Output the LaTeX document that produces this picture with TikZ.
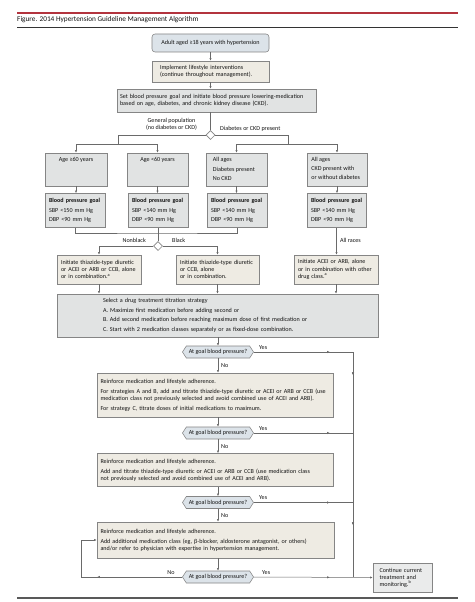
\documentclass[tikz,border=0pt]{standalone}
\usepackage{fontspec}
\setmainfont{Carlito}
\usetikzlibrary{shapes.geometric,shapes.symbols,arrows.meta,decorations.markings}
\definecolor{bluegray}{HTML}{DCE3E9}
\definecolor{beige}{HTML}{EEEBE3}
\definecolor{lgray}{HTML}{E1E3E3}
\definecolor{edgec}{HTML}{858585}
\definecolor{connc}{HTML}{6A6A6A}
\definecolor{redline}{HTML}{B3343E}
\definecolor{txtc}{HTML}{141414}
\begin{document}
\begin{tikzpicture}[x=1pt,y=-1pt,
  font=\fontsize{6.1}{7}\selectfont, text=txtc,
  box/.style={draw=edgec, line width=0.55pt, inner ysep=1pt, align=left},
  gbox/.style={box, fill=lgray},
  bbox/.style={box, fill=beige},
  conn/.style={draw=connc, line width=0.5pt},
  arr/.style={conn, -{Latex[length=2.6pt,width=2.2pt]}},
  midarr/.style={postaction={decorate}, decoration={markings, mark=at position #1 with {\arrow{Latex[length=2.6pt,width=2.2pt]}}}},
  hexa/.style={signal, signal to=west and east, signal pointer angle=115, draw=edgec, line width=0.55pt, fill=bluegray, minimum height=12pt, minimum width=71pt, inner xsep=1pt, inner ysep=0pt},
  dia/.style={diamond, draw=edgec, line width=0.55pt, fill=white, minimum size=9pt, inner sep=0pt},
  lbl/.style={inner sep=0pt, align=left}
]
\fill[white] (0,0) rectangle (474,602);
\useasboundingbox (0,0) rectangle (474,602);

% header
\draw[redline, line width=1.3pt] (17,13) -- (458,13);
\node[lbl, anchor=west, font=\fontsize{7.3}{8}\selectfont] (title) at (17,20) {Figure. 2014 Hypertension Guideline Management Algorithm};
\draw[black!80, line width=0.6pt] (17,27) -- (458,27);
\draw[black!65, line width=1.2pt] (17,598) -- (458,598);

% top boxes
\node[box, fill=bluegray, rounded corners=3pt, minimum width=117pt, minimum height=18pt, align=center] (n1) at (210.5,43) {Adult aged ≥18 years with hypertension};
\node[bbox, minimum width=117pt, minimum height=21pt, inner xsep=8pt, text width=101pt] (n2) at (210.5,71.5) {Implement lifestyle interventions\\(continue throughout management).};
\node[gbox, minimum width=199pt, minimum height=23pt, inner xsep=3pt, text width=193pt] (n3) at (216.5,100.5) {Set blood pressure goal and initiate blood pressure lowering-medication\\based on age, diabetes, and chronic kidney disease (CKD).};
\node[dia] (d1) at (210.5,135) {};

\draw[arr] (n1.south) -- (n2.north);
\draw[arr] (n2.south) -- (n2.south |- n3.north);
\draw[conn] (n2.south |- n3.south) -- (d1.north);

\node[lbl, align=center] (lgen) at (171.5,124.5) {General population\\(no diabetes or CKD)};
\node[lbl, anchor=west] (ldia) at (220,128.5) {Diabetes or CKD present};

% row 1
\node[gbox, minimum width=62pt, minimum height=33pt] (r1a) at (76,169.5) {};
\node[gbox, minimum width=61pt, minimum height=33pt] (r1b) at (157.5,169.5) {};
\node[gbox, minimum width=61pt, minimum height=33pt] (r1c) at (236.5,169.5) {};
\node[gbox, minimum width=60pt, minimum height=33pt] (r1d) at (337,169.5) {};
\node[lbl, anchor=north] (r1at) at ([yshift=-4.5pt]r1a.north) {Age ≥60 years};
\node[lbl, anchor=north] (r1bt) at ([yshift=-4.5pt]r1b.north) {Age <60 years};
\node[lbl, anchor=north west, font=\fontsize{6.1}{9.4}\selectfont] (r1ct) at ([xshift=7pt,yshift=-4.5pt]r1c.north west) {All ages\\Diabetes present\\No CKD};
\node[lbl, anchor=north west, font=\fontsize{6.1}{9}\selectfont] (r1dt) at ([xshift=4.5pt,yshift=-4.5pt]r1d.north west) {All ages\\CKD present with\\or without diabetes};

\coordinate (jl) at (118,144);
\coordinate (jr) at (288,144);
\draw[conn] (d1.west) -| (jl);
\draw[conn] (d1.east) -| (jr);
\draw[arr] (jl) -| (r1a.north);
\draw[arr] (jl) -| (r1b.north);
\draw[arr] (jr) -| (r1c.north);
\draw[arr] (jr) -| (r1d.north);

% row 2: BP goals
\tikzset{bp/.style={gbox, minimum height=34pt, inner xsep=4pt, font=\fontsize{6.1}{9.3}\selectfont}}
\node[bp, minimum width=60pt, text width=52pt] (bp1) at (75,210.5) {\mbox{\textbf{Blood pressure goal}}\\SBP <150 mm Hg\\DBP <90 mm Hg};
\node[bp, minimum width=60pt, text width=52pt] (bp2) at (158,210.5) {\mbox{\textbf{Blood pressure goal}}\\SBP <140 mm Hg\\DBP <90 mm Hg};
\node[bp, minimum width=60pt, text width=52pt] (bp3) at (237,210.5) {\mbox{\textbf{Blood pressure goal}}\\SBP <140 mm Hg\\DBP <90 mm Hg};
\node[bp, minimum width=59pt, text width=51pt] (bp4) at (336.5,210.5) {\mbox{\textbf{Blood pressure goal}}\\SBP <140 mm Hg\\DBP <90 mm Hg};

\draw[arr] (r1a.south) -- (r1a.south |- bp1.north);
\draw[arr] (r1b.south) -- (r1b.south |- bp2.north);
\draw[arr] (r1c.south) -- (r1c.south |- bp3.north);
\draw[arr] (r1d.south) -- (r1d.south |- bp4.north);

% race decision
\node[dia] (d2) at (158,246) {};
\coordinate (jm) at (158,233);
\draw[conn] (bp1.south) |- (jm) -| (bp3.south);
\draw[conn] (bp2.south) -- (d2.north);
\node[lbl, anchor=east] (lnb) at (146,240) {Nonblack};
\node[lbl, anchor=west] (lbk) at (172,240) {Black};
\node[lbl, anchor=west] (lar) at (340,240) {All races};

% row 3
\tikzset{r3/.style={bbox, minimum height=29pt, inner xsep=4pt, font=\fontsize{6.1}{7.3}\selectfont}}
\node[r3, minimum width=84pt, text width=76pt] (r3a) at (99,269.5) {Initiate thiazide-type diuretic\\or ACEI or ARB or CCB, alone\\or in combination.\textsuperscript{a}};
\node[r3, minimum width=83pt, text width=75pt] (r3b) at (217.5,269.5) {Initiate thiazide-type diuretic\\or CCB, alone\\or in combination.};
\node[r3, minimum width=84pt, text width=76pt] (r3c) at (336,269.5) {Initiate ACEI or ARB, alone\\or in combination with other\\drug class.\textsuperscript{a}};

\draw[arr] (d2.west) -| (r3a.north);
\draw[arr] (d2.east) -| (r3b.north);
\draw[arr] (bp4.south) -- (bp4.south |- r3c.north);

% strategy box
\node[gbox, minimum width=321pt, minimum height=43pt, inner xsep=46pt, text width=229pt, font=\fontsize{6.1}{9.6}\selectfont] (sel) at (217.5,315.5) {Select a drug treatment titration strategy\\A. Maximize first medication before adding second or\\B. Add second medication before reaching maximum dose of first medication or\\C. Start with 2 medication classes separately or as fixed-dose combination.};
\draw[arr] (r3a.south) -- (r3a.south |- sel.north);
\draw[arr] (r3b.south) -- (r3b.south |- sel.north);
\draw[arr] (r3c.south) -- (r3c.south |- sel.north);

% decisions and steps
\node[hexa] (h1) at (218,352) {At goal blood pressure?};
\node[bbox, minimum width=236pt, minimum height=44pt, inner xsep=3.5pt, text width=229pt] (bA) at (215,395) {Reinforce medication and lifestyle adherence.\\[3pt]For strategies A and B, add and titrate thiazide-type diuretic or ACEI or ARB or CCB (use\\medication class not previously selected and avoid combined use of ACEI and ARB).\\[3pt]For strategy C, titrate doses of initial medications to maximum.};
\node[hexa] (h2) at (218,433) {At goal blood pressure?};
\node[bbox, minimum width=236pt, minimum height=33pt, inner xsep=3.5pt, text width=229pt] (bB) at (215,470) {Reinforce medication and lifestyle adherence.\\[3pt]Add and titrate thiazide-type diuretic or ACEI or ARB or CCB (use medication class\\not previously selected and avoid combined use of ACEI and ARB).};
\node[hexa] (h3) at (218,502.5) {At goal blood pressure?};
\node[bbox, minimum width=237pt, minimum height=36pt, inner xsep=3.5pt, text width=230pt] (bC) at (215.5,540) {Reinforce medication and lifestyle adherence.\\[3pt]Add additional medication class (eg, β-blocker, aldosterone antagonist, or others)\\and/or refer to physician with expertise in hypertension management.};
\node[hexa] (h4) at (218,577) {At goal blood pressure?};
\node[gbox, minimum width=59pt, minimum height=29pt, inner xsep=6.5pt, text width=46pt, fill=lgray!70!white] (fin) at (402.5,577.5) {Continue current\\treatment and\\monitoring.\textsuperscript{b}};

\draw[arr] (h1.north |- sel.south) -- (h1.north);
\draw[arr] (h1.south) -- (h1.south |- bA.north);
\draw[arr] (h2.north |- bA.south) -- (h2.north);
\draw[arr] (h2.south) -- (h2.south |- bB.north);
\draw[arr] (h3.north |- bB.south) -- (h3.north);
\draw[arr] (h3.south) -- (h3.south |- bC.north);
\draw[arr] (h4.north |- bC.south) -- (h4.north);

% yes branches
\coordinate (v1) at (353,352);
\coordinate (v2) at (353,433);
\coordinate (v3) at (353,502.5);
\coordinate (v4) at (353,577);
\draw[conn, midarr=76pt] (h1.east) -- (v1);
\draw[conn, midarr=76pt] (h2.east) -- (v2);
\draw[conn, midarr=76pt] (h3.east) -- (v3);
\draw[conn, midarr=23pt, midarr=173pt] (v1) -- (v4);
\draw[arr, midarr=76pt] (h4.east) -- (fin.west);

% no loop
\coordinate (lp) at (81,577);
\draw[arr, midarr=85pt] (h4.west) -- (lp) |- (bC.west);

% labels
\node[lbl, anchor=west] (y1) at (259,347.5) {Yes};
\node[lbl, anchor=west] (y2) at (259,428.5) {Yes};
\node[lbl, anchor=west] (y3) at (259,498) {Yes};
\node[lbl, anchor=west] (y4) at (262,572.5) {Yes};
\node[lbl, anchor=west] (no1) at (221,366) {No};
\node[lbl, anchor=west] (no2) at (221,446.5) {No};
\node[lbl, anchor=west] (no3) at (221,516) {No};
\node[lbl] (no4) at (171,572.5) {No};
\end{tikzpicture}
\end{document}
